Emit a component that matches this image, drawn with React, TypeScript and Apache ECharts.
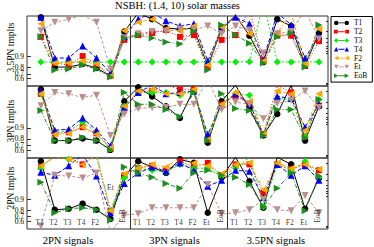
import React, { useEffect, useRef } from "react";
import * as echarts from "echarts";

const seriesNames = ["T1", "T2", "T3", "T4", "F2", "Et", "EoB"];
const signalNames = ["T1", "T2", "T3", "T4", "F2", "Et", "EoB"];
const signalFamilies = ["2PN signals", "3PN signals", "3.5PN signals"];
const templateFamilies = ["3.5PN tmplts", "3PN tmplts", "2PN tmplts"];
const titleText = "NSBH: (1.4, 10) solar masses";
const yTickLabels = [0.9, 0.8, 0.7, 0.6, 0.5];
const yMinorTicks = [0.99, 0.98, 0.97, 0.96, 0.95, 0.94, 0.93, 0.92, 0.45, 0.4];

// Each array: 21 match values = signals (2PN T1..EoB, 3PN T1..EoB, 3.5PN T1..EoB)
// 3.5PN templates
const m35T1 = [0.992, 0.806, 0.806, 0.84, 0.793, 0.654, 0.98, 0.994, 0.991, 0.984, 0.983, 0.984, 0.818, 0.983, 0.993, 0.974, 0.859, 0.991, 0.986, 0.829, 0.978];
const m35T2 = [0.972, 0.85, 0.829, 0.904, 0.84, 0.654, 0.966, 0.975, 0.978, 0.982, 0.972, 0.975, 0.806, 0.966, 0.975, 0.995, 0.876, 0.974, 0.974, 0.818, 0.963];
const m35T3 = [0.859, 0.858, 0.858, 0.859, 0.858, 0.859, 0.859, 0.859, 0.86, 0.859, 0.86, 0.859, 0.86, 0.859, 0.86, 0.861, 0.997, 0.86, 0.86, 0.861, 0.86];
const m35T4 = [0.992, 0.891, 0.891, 0.95, 0.891, 0.715, 0.972, 0.991, 0.994, 0.99, 0.986, 0.988, 0.868, 0.984, 0.992, 0.988, 0.876, 0.994, 0.987, 0.891, 0.974];
const m35F2 = [0.988, 0.85, 0.85, 0.868, 0.84, 0.654, 0.981, 0.989, 0.991, 0.983, 0.981, 0.986, 0.829, 0.985, 0.993, 0.977, 0.868, 0.978, 0.994, 0.84, 0.983];
const m35Et = [0.981, 0.989, 0.991, 0.993, 0.989, 0.779, 0.97, 0.977, 0.98, 0.98, 0.983, 0.982, 0.986, 0.977, 0.986, 0.982, 0.921, 0.977, 0.98, 0.995, 0.968];
const m35EoB = [0.972, 0.765, 0.779, 0.829, 0.779, 0.631, 0.97, 0.975, 0.97, 0.961, 0.956, 0.98, 0.765, 0.987, 0.975, 0.958, 0.85, 0.972, 0.978, 0.806, 0.987];
// 3PN templates
const m3T1 = [0.991, 0.779, 0.779, 0.806, 0.779, 0.607, 0.981, 0.992, 0.986, 0.974, 0.946, 0.991, 0.749, 0.981, 0.993, 0.97, 0.84, 0.958, 0.993, 0.779, 0.974];
const m3T2 = [0.988, 0.859, 0.868, 0.904, 0.859, 0.631, 0.972, 0.989, 0.99, 0.993, 0.991, 0.991, 0.793, 0.977, 0.986, 0.978, 0.85, 0.993, 0.989, 0.829, 0.975];
const m3T3 = [0.988, 0.868, 0.876, 0.93, 0.868, 0.631, 0.974, 0.989, 0.989, 0.989, 0.987, 0.99, 0.806, 0.975, 0.988, 0.987, 0.85, 0.984, 0.983, 0.829, 0.983];
const m3T4 = [0.99, 0.884, 0.891, 0.946, 0.884, 0.696, 0.972, 0.989, 0.993, 0.988, 0.989, 0.99, 0.85, 0.977, 0.988, 0.978, 0.85, 0.986, 0.984, 0.904, 0.977];
const m3F2 = [0.988, 0.85, 0.859, 0.904, 0.85, 0.654, 0.974, 0.99, 0.991, 0.988, 0.988, 0.991, 0.793, 0.977, 0.989, 0.981, 0.85, 0.99, 0.988, 0.884, 0.988];
const m3Et = [0.975, 0.989, 0.988, 0.985, 0.987, 0.84, 0.958, 0.97, 0.972, 0.972, 0.977, 0.977, 0.995, 0.968, 0.98, 0.977, 0.943, 0.978, 0.982, 0.99, 0.972];
const m3EoB = [0.966, 0.779, 0.779, 0.818, 0.779, 0.607, 0.989, 0.977, 0.977, 0.968, 0.95, 0.989, 0.779, 0.988, 0.97, 0.966, 0.84, 0.968, 0.968, 0.818, 0.983];
// 2PN templates
const m2T1 = [0.991, 0.806, 0.818, 0.868, 0.806, 0.654, 0.977, 0.991, 0.987, 0.981, 0.992, 0.99, 0.765, 0.975, 0.993, 0.968, 0.829, 0.993, 0.989, 0.818, 0.974];
const m2T2 = [0.987, 0.994, 0.993, 0.989, 0.994, 0.793, 0.978, 0.986, 0.988, 0.984, 0.991, 0.987, 0.99, 0.978, 0.989, 0.989, 0.935, 0.989, 0.985, 0.989, 0.984];
const m2T3 = [0.986, 0.994, 0.992, 0.994, 0.993, 0.793, 0.974, 0.986, 0.984, 0.982, 0.989, 0.986, 0.986, 0.977, 0.986, 0.993, 0.84, 0.989, 0.984, 0.991, 0.975];
const m2T4 = [0.982, 0.978, 0.988, 0.994, 0.977, 0.765, 0.963, 0.981, 0.987, 0.983, 0.99, 0.984, 0.956, 0.97, 0.984, 0.983, 0.91, 0.989, 0.978, 0.988, 0.97];
const m2F2 = [0.988, 0.993, 0.992, 0.989, 0.994, 0.793, 0.98, 0.986, 0.989, 0.987, 0.993, 0.99, 0.988, 0.98, 0.989, 0.99, 0.946, 0.99, 0.986, 0.989, 0.985];
const m2Et = [0.46, 0.978, 0.977, 0.974, 0.981, 0.2, 0.73, 0.749, 0.829, 0.829, 0.829, 0.829, 0.961, 0.749, 0.765, 0.806, 0.898, 0.806, 0.793, 0.921, 0.765];
const m2EoB = [0.966, 0.765, 0.818, 0.829, 0.806, 0.631, 0.987, 0.981, 0.975, 0.963, 0.95, 0.981, 0.984, 0.978, 0.975, 0.961, 0.84, 0.95, 0.981, 0.793, 0.977];

const rows = [
  [m35T1, m35T2, m35T3, m35T4, m35F2, m35Et, m35EoB],
  [m3T1, m3T2, m3T3, m3T4, m3F2, m3Et, m3EoB],
  [m2T1, m2T2, m2T3, m2T4, m2F2, m2Et, m2EoB],
];

// ---- layout / style ----
const SERIF = "'Liberation Serif', 'DejaVu Serif', serif";
const T_MIN = 0.184;
const T_MAX = 2.134;
const X_MAX = 21.65;
const SEPARATORS = [7.4, 14.4];
const gridBoxes = [
  { top: 16, height: 70 },
  { top: 86, height: 72 },
  { top: 158, height: 71 },
];
const styles = [
  { color: "#000000", symbol: "circle", size: 6.5, rotate: 0, dash: "solid" as any },
  { color: "#ff0000", symbol: "rect", size: 6, rotate: 0, dash: [1, 2] },
  { color: "#00f000", symbol: "diamond", size: 7, rotate: 0, dash: [2, 2] },
  { color: "#0000ff", symbol: "triangle", size: 7, rotate: 0, dash: [4, 2] },
  { color: "#ffa500", symbol: "triangle", size: 7, rotate: 90, dash: [4, 2, 1, 2] },
  { color: "#bc8f8f", symbol: "triangle", size: 7, rotate: 180, dash: [3, 2] },
  { color: "#1f8c1f", symbol: "triangle", size: 7, rotate: -90, dash: [4, 2, 1, 2] },
];
const bar = "M10,4H24V6H10Z";
const legendIcons = [
  "path://M0,5a5,5 0 1,0 10,0a5,5 0 1,0 -10,0Z M24,5a5,5 0 1,0 10,0a5,5 0 1,0 -10,0Z " + bar,
  "path://M1,1H9V9H1Z M25,1H33V9H25Z " + bar,
  "path://M5,0L10,5L5,10L0,5Z M29,0L34,5L29,10L24,5Z " + bar,
  "path://M5,0L10,10H0Z M29,0L34,10H24Z " + bar,
  "path://M0,5L10,0V10Z M24,5L34,0V10Z " + bar,
  "path://M0,0H10L5,10Z M24,0H34L29,10Z " + bar,
  "path://M0,0L10,5L0,10Z M24,0L34,5L24,10Z " + bar,
];

const tf = (v: number) => -Math.log10(1 - v);

export default function App() {
  const ref = useRef<HTMLDivElement>(null);
  useEffect(() => {
    if (!ref.current) return;
    const chart = echarts.init(ref.current, undefined, { renderer: "svg" });

    const grid = gridBoxes.map((g) => ({
      left: 27,
      width: 301,
      top: g.top,
      height: g.height,
      show: true,
      borderColor: "#333",
      borderWidth: 1,
      backgroundColor: "transparent",
    }));
    const xAxis = gridBoxes.map((_, i) => ({
      type: "value",
      gridIndex: i,
      min: 0,
      max: X_MAX,
      show: false,
    }));
    const yAxis: any[] = [];
    gridBoxes.forEach((_, i) => {
      yAxis.push({
        type: "value",
        gridIndex: i,
        min: T_MIN,
        max: T_MAX,
        axisLine: { show: false },
        splitLine: { show: false },
        axisTick: {
          show: true,
          inside: true,
          length: 4,
          customValues: yTickLabels.map(tf),
          lineStyle: { color: "#333" },
        },
        axisLabel: {
          show: true,
          customValues: yTickLabels.map(tf),
          formatter: (v: number) => (1 - Math.pow(10, -v)).toFixed(1),
          fontSize: 7.5,
          fontFamily: SERIF,
          color: "#000",
          margin: 3,
        },
      });
      yAxis.push({
        type: "value",
        gridIndex: i,
        min: T_MIN,
        max: T_MAX,
        axisLine: { show: false },
        splitLine: { show: false },
        axisLabel: { show: false },
        axisTick: {
          show: true,
          inside: true,
          length: 2,
          customValues: yMinorTicks.map(tf),
          lineStyle: { color: "#333" },
        },
      });
    });

    const series: any[] = [];
    rows.forEach((row, r) => {
      row.forEach((vals, k) => {
        const st = styles[k];
        const s: any = {
          type: "line",
          name: seriesNames[k],
          xAxisIndex: r,
          yAxisIndex: r * 2,
          data: vals.map((v, i) => [i + 1, tf(v)]),
          symbol: st.symbol,
          symbolSize: st.size,
          symbolRotate: st.rotate,
          itemStyle: { color: st.color },
          lineStyle: { color: st.color, width: 1, type: st.dash },
          clip: true,
          silent: true,
        };
        if (k === 0) {
          s.markLine = {
            silent: true,
            symbol: ["none", "none"],
            label: { show: false },
            lineStyle: { color: "#333", width: 1, type: "solid" },
            data: SEPARATORS.map((x) => ({ xAxis: x })),
          };
        }
        series.push(s);
      });
    });

    // signal labels inside the bottom row
    const labelData: any[] = [];
    for (let p = 0; p < 3; p++) {
      signalNames.forEach((n, s) => {
        const isEoB = s === 6;
        let x = p * 7 + s + 1 + (isEoB ? -0.1 : -0.1);
        let yv = isEoB ? 0.715 : 0.56;
        if (p === 0 && s === 5) {
          x = 6.0;
          yv = 0.954;
        }
        labelData.push({
          name: n,
          value: [x, tf(yv)],
          label: isEoB ? { rotate: 90 } : {},
        });
      });
    }
    series.push({
      type: "scatter",
      name: "signal-labels",
      xAxisIndex: 2,
      yAxisIndex: 4,
      symbolSize: 1,
      itemStyle: { color: "rgba(0,0,0,0)" },
      silent: true,
      z: 20,
      data: labelData,
      label: {
        show: true,
        position: "inside",
        formatter: "{b}",
        fontSize: 7.5,
        fontFamily: SERIF,
        color: "#000",
      },
    });

    const famX = [68, 174.5, 276];
    const nameY = [47.5, 121, 188];
    const graphic: any[] = [
      ...signalFamilies.map((t, i) => ({
        type: "text",
        x: famX[i],
        y: 240,
        style: {
          text: t,
          fontSize: 10.5,
          fontFamily: SERIF,
          fill: "#000",
          align: "center",
          verticalAlign: "middle",
          textAlign: "center",
          textVerticalAlign: "middle",
        },
      })),
      ...templateFamilies.map((t, i) => ({
        type: "text",
        x: 11,
        y: nameY[i],
        rotation: Math.PI / 2,
        style: {
          text: t,
          fontSize: 9.5,
          fontFamily: SERIF,
          fill: "#000",
          align: "center",
          verticalAlign: "middle",
          textAlign: "center",
          textVerticalAlign: "middle",
        },
      })),
    ];

    chart.setOption({
      animation: false,
      backgroundColor: "#fff",
      title: {
        text: titleText,
        left: 177.5,
        top: 0,
        padding: 0,
        textAlign: "center",
        textStyle: { fontSize: 10.5, fontWeight: "normal", fontFamily: SERIF, color: "#000" },
      },
      legend: {
        data: seriesNames.map((n, i) => ({ name: n, icon: legendIcons[i] })),
        orient: "vertical",
        left: 331,
        top: 16.5,
        itemWidth: 15,
        itemHeight: 5,
        itemGap: 0,
        padding: [2, 5, 2, 3],
        borderColor: "#000",
        borderWidth: 1,
        backgroundColor: "#fff",
        selectedMode: false,
        textStyle: { fontSize: 7.5, fontFamily: SERIF, color: "#000", lineHeight: 8.8 },
      },
      grid,
      xAxis,
      yAxis,
      series,
      graphic,
    });

    return () => chart.dispose();
  }, []);
  return (
    <div
      ref={ref}
      style={{ position: "fixed", left: 0, top: 0, width: 374, height: 247, background: "#fff" }}
    />
  );
}
